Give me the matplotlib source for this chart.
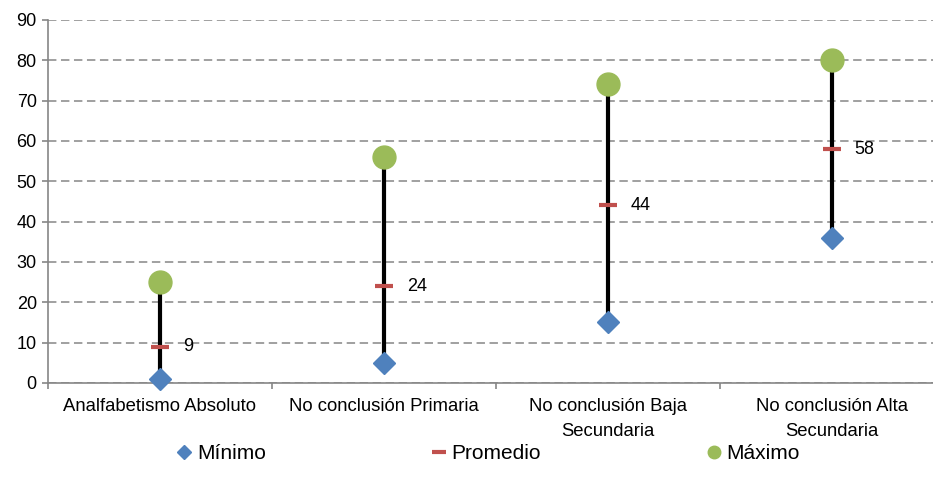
import matplotlib.pyplot as plt
from matplotlib.lines import Line2D
import numpy as np

plt.rcParams['font.family'] = ['Liberation Sans', 'DejaVu Sans']

# data
categorias = ['Analfabetismo Absoluto', 'No conclusión Primaria',
              'No conclusión Baja\nSecundaria', 'No conclusión Alta\nSecundaria']
minimo = [1, 5, 15, 36]
promedio = [9, 24, 44, 58]
maximo = [25, 56, 74, 80]
y_ticks = [0, 10, 20, 30, 40, 50, 60, 70, 80, 90]

azul = '#4F81BD'
rojo = '#C0504D'
verde = '#9BBB59'
gris = '#868686'

fig = plt.figure(figsize=(9.33, 4.86), dpi=100)
# plot area runs a little past the right edge, like the cropped original
ax = fig.add_axes([0.0514, 0.212, 0.960, 0.747])

x = np.arange(len(categorias))

ax.vlines(x, minimo, maximo, color='black', lw=3, zorder=3)
ax.plot(x, minimo, linestyle='none', marker='D', ms=11.5, color=azul, zorder=4, clip_on=False)
ax.plot(x, promedio, linestyle='none', marker='_', ms=13, mew=3, color=rojo, zorder=4)
ax.plot(x, maximo, linestyle='none', marker='o', ms=16.5, color=verde, zorder=4, clip_on=False)

for xi, v in zip(x, promedio):
    ax.annotate(str(v), (xi, v), xytext=(16.5, 0), textcoords='offset points',
                ha='left', va='center', fontsize=13)

ax.set_xlim(-0.5, len(categorias) - 0.5)
ax.set_ylim(0, 90)
ax.set_yticks(y_ticks)
ax.set_xticks(x)
ax.set_xticklabels(categorias)
for lbl in ax.get_xticklabels():
    lbl.set_linespacing(1.6)
ax.set_xticks(np.arange(len(categorias) + 1) - 0.5, minor=True)
ax.tick_params(axis='x', which='major', length=0, labelsize=13.3, pad=11)
ax.tick_params(axis='x', which='minor', length=4, color=gris, width=1.2)
ax.tick_params(axis='y', length=4, color=gris, width=1.2, labelsize=13, pad=4)

ax.grid(axis='y', color=gris, lw=1.1, linestyle=(0, (5.5, 3)))
ax.set_axisbelow(True)
for s in ['top', 'right']:
    ax.spines[s].set_visible(False)
for s in ['left', 'bottom']:
    ax.spines[s].set_color(gris)
    ax.spines[s].set_linewidth(1.2)
ax.spines['left'].set_zorder(5)

handles = [
    Line2D([], [], linestyle='none', marker='D', ms=7, color=azul),
    Line2D([], [], linestyle='none', marker='_', ms=10, mew=3, color=rojo),
    Line2D([], [], linestyle='none', marker='o', ms=9, color=verde),
]
fig.legend(handles, ['Mínimo', 'Promedio', 'Máximo'], loc='center',
           bbox_to_anchor=(0.524, 0.066), ncol=3, frameon=False, fontsize=15,
           handlelength=0.6, handletextpad=0.3, columnspacing=8.0)

fig.savefig('out.png', dpi=100)
